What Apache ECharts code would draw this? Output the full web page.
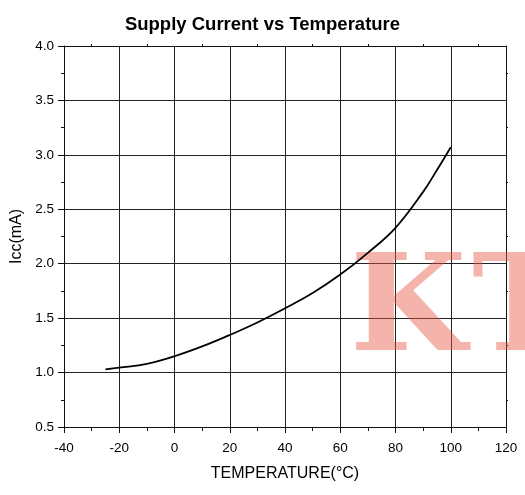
<!DOCTYPE html>
<html>
<head>
<meta charset="utf-8">
<script src="https://cdn.jsdelivr.net/npm/echarts@6/dist/echarts.min.js"></script>
<style>
  html, body { margin: 0; padding: 0; background: #fff; }
  #chart { width: 525px; height: 495px; }
</style>
</head>
<body>
<div id="chart"></div>
<script>
  // curve
  const temperature = [-25, -20, -10, 0, 10, 20, 30, 40, 50, 60, 70, 80, 90, 95, 100]
  const supplyCurrent = [1.03, 1.045, 1.08, 1.15, 1.24, 1.345, 1.46, 1.59, 1.73, 1.9, 2.1, 2.33, 2.66, 2.86, 3.07]
  // tick labels
  const xTicks = [-40, -20, 0, 20, 40, 60, 80, 100, 120]
  const yTicks = [0.5, 1.0, 1.5, 2.0, 2.5, 3.0, 3.5, 4.0]

  const font = 'Liberation Sans'
  const ink = '#111'
  const pink = 'rgba(231,88,71,0.45)'

  let chart = echarts.init(document.getElementById('chart'))
  chart.setOption({
    animation: false,
    title: {
      text: 'Supply Current vs Temperature',
      left: 'center',
      top: 10,
      textStyle: { fontFamily: font, fontSize: 18.5, fontWeight: 'bold', color: '#000' }
    },
    grid: { left: 64, right: 19, top: 46, bottom: 68, outerBoundsMode: 'none' },
    xAxis: [
      {
        type: 'value',
        min: xTicks[0],
        max: xTicks[xTicks.length - 1],
        interval: xTicks[1] - xTicks[0],
        name: 'TEMPERATURE(°C)',
        nameLocation: 'middle',
        nameGap: 39,
        nameTextStyle: { fontFamily: font, fontSize: 16, color: '#000' },
        axisLine: { onZero: false, lineStyle: { color: ink, width: 1 } },
        axisTick: { inside: false, length: 6, lineStyle: { color: ink } },
        minorTick: { show: true, splitNumber: 2, length: 4, lineStyle: { color: ink } },
        splitLine: { show: true, lineStyle: { color: '#222', width: 1 } },
        axisLabel: { fontFamily: font, fontSize: 13.5, color: '#000', margin: 14 }
      },
      {
        type: 'value',
        position: 'top',
        min: xTicks[0],
        max: xTicks[xTicks.length - 1],
        interval: xTicks[1] - xTicks[0],
        axisLine: { show: true, onZero: false, lineStyle: { color: ink, width: 1 } },
        axisTick: { show: false },
        minorTick: { show: true, splitNumber: 2, length: 2, lineStyle: { color: ink } },
        splitLine: { show: false },
        axisLabel: { show: false }
      }
    ],
    yAxis: [
      {
        type: 'value',
        min: yTicks[0],
        max: yTicks[yTicks.length - 1],
        interval: yTicks[1] - yTicks[0],
        name: 'Icc(mA)',
        nameLocation: 'middle',
        nameGap: 37,
        nameTextStyle: { fontFamily: font, fontSize: 16, color: '#000' },
        axisLine: { show: true, onZero: false, lineStyle: { color: ink, width: 1 } },
        axisTick: { show: true, inside: false, length: 6, lineStyle: { color: ink } },
        minorTick: { show: true, splitNumber: 2, length: 3, lineStyle: { color: ink } },
        splitLine: { show: true, lineStyle: { color: '#222', width: 1 } },
        axisLabel: {
          fontFamily: font, fontSize: 13.5, color: '#000', margin: 10,
          formatter: v => v.toFixed(1)
        }
      },
      {
        type: 'value',
        position: 'right',
        min: yTicks[0],
        max: yTicks[yTicks.length - 1],
        interval: yTicks[1] - yTicks[0],
        axisLine: { show: true, onZero: false, lineStyle: { color: ink, width: 1 } },
        axisTick: { show: false },
        minorTick: { show: true, splitNumber: 2, length: 2, lineStyle: { color: ink } },
        splitLine: { show: false },
        axisLabel: { show: false }
      }
    ],
    graphic: [
      // watermark, one letter each so the spacing matches
      {
        type: 'text', x: 350, y: 315, z: 1, silent: true,
        style: {
          text: 'K', fontFamily: 'DejaVu Serif', fontWeight: 'bold', fontSize: 134,
          verticalAlign: 'middle', fill: pink
        }
      },
      {
        type: 'text', x: 472, y: 315, z: 1, silent: true,
        style: {
          text: 'T', fontFamily: 'DejaVu Serif', fontWeight: 'bold', fontSize: 134,
          verticalAlign: 'middle', fill: pink
        }
      }
    ],
    series: [
      {
        type: 'line',
        data: temperature.map((t, i) => [t, supplyCurrent[i]]),
        smooth: 0.4,
        showSymbol: false,
        z: 3,
        lineStyle: { color: '#000', width: 1.8 }
      }
    ]
  })
</script>
</body>
</html>
